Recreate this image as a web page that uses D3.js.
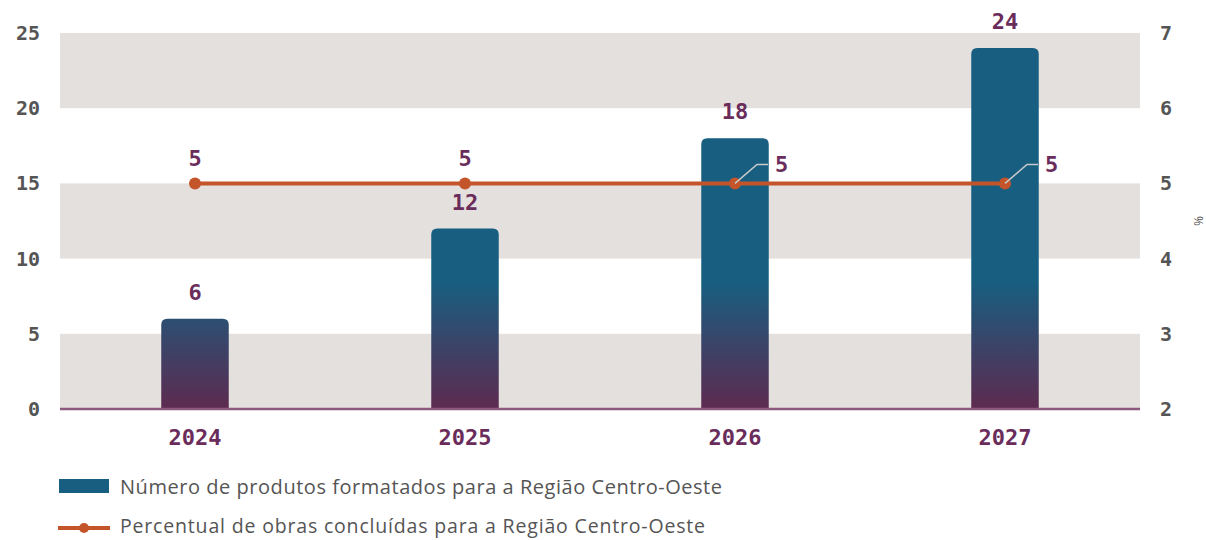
<!DOCTYPE html>
<html>
<head>
<meta charset="utf-8">
<script src="https://cdn.jsdelivr.net/npm/d3@7"></script>
<style>
  html, body { margin: 0; padding: 0; background: #fff; }
  svg { display: block; }
</style>
</head>
<body>
<svg id="chart" width="1206" height="540"></svg>
<script>
// Anos, produtos formatados (barras) e percentual de obras concluídas (linha)
const years = ["2024", "2025", "2026", "2027"];
const produtos = [6, 12, 18, 24];
const percentual = [5, 5, 5, 5];
const leftTicks = [0, 5, 10, 15, 20, 25];
const rightTicks = [2, 3, 4, 5, 6, 7];
const legendLabels = [
  "Número de produtos formatados para a Região Centro-Oeste",
  "Percentual de obras concluídas para a Região Centro-Oeste"
];

const W = 1206, H = 540;
const m = { left: 60, right: 66, top: 33, bottom: 131 };
const plotW = W - m.left - m.right;
const plotTop = m.top, plotBottom = H - m.bottom;

const svg = d3.select("#chart");
const monoFont = "'DejaVu Sans Mono', 'Liberation Mono', monospace";
const sansFont = "'Open Sans', 'Noto Sans', sans-serif";
const purple = "#6a2c5a";
const orange = "#c4552b";

const x = d3.scaleBand().domain(years).range([m.left, m.left + plotW]).paddingInner(0.75).paddingOuter(0.375);
const y = d3.scaleLinear().domain([0, 25]).range([plotBottom, plotTop]);
const y2 = d3.scaleLinear().domain([2, 7]).range([plotBottom, plotTop]);

// Faixas alternadas de fundo
const bands = [[0, 5], [10, 15], [20, 25]];
svg.append("g").selectAll("rect").data(bands).join("rect")
  .attr("x", m.left).attr("width", plotW)
  .attr("y", d => y(d[1])).attr("height", d => y(d[0]) - y(d[1]))
  .attr("fill", "#e4e0de");

// Gradiente das barras (azul no alto, roxo na base)
const defs = svg.append("defs");
const grad = defs.append("linearGradient").attr("id", "barGrad")
  .attr("gradientUnits", "userSpaceOnUse")
  .attr("x1", 0).attr("x2", 0).attr("y1", y(8.5)).attr("y2", y(0));
grad.append("stop").attr("offset", "0%").attr("stop-color", "#175e80");
grad.append("stop").attr("offset", "100%").attr("stop-color", "#5e2a50");

// Barras com cantos superiores arredondados
const r = 6;
function barPath(d, i) {
  const x0 = x(years[i]), w = x.bandwidth();
  const top = y(d), bot = y(0);
  return `M${x0},${bot} L${x0},${top + r} Q${x0},${top} ${x0 + r},${top} L${x0 + w - r},${top} Q${x0 + w},${top} ${x0 + w},${top + r} L${x0 + w},${bot} Z`;
}
svg.append("g").selectAll("path").data(produtos).join("path")
  .attr("d", (d, i) => barPath(d, i))
  .attr("fill", "url(#barGrad)");

// Linha de base
svg.append("line")
  .attr("x1", m.left).attr("x2", m.left + plotW)
  .attr("y1", y(0)).attr("y2", y(0))
  .attr("stroke", "#8c5a7e").attr("stroke-width", 2.5);

// Rótulos das barras
svg.append("g").selectAll("text").data(produtos).join("text")
  .attr("x", (d, i) => x(years[i]) + x.bandwidth() / 2)
  .attr("y", d => y(d) - 19)
  .attr("text-anchor", "middle")
  .attr("font-family", monoFont).attr("font-weight", "bold")
  .attr("font-size", 22).attr("fill", purple)
  .text(d => d);

// Eixo esquerdo
const axL = svg.append("g").attr("transform", `translate(${m.left - 20},0)`)
  .call(d3.axisLeft(y).tickValues(leftTicks).tickSize(0).tickPadding(0));
axL.select(".domain").remove();
axL.selectAll("text").attr("font-family", monoFont).attr("font-weight", "bold")
  .attr("font-size", 20).attr("fill", "#555");

// Eixo direito
const axR = svg.append("g").attr("transform", `translate(${m.left + plotW + 20},0)`)
  .call(d3.axisRight(y2).tickValues(rightTicks).tickFormat(d3.format("d")).tickSize(0).tickPadding(0));
axR.select(".domain").remove();
axR.selectAll("text").attr("font-family", monoFont).attr("font-weight", "bold")
  .attr("font-size", 20).attr("fill", "#555");
svg.append("text")
  .attr("transform", `translate(1194,${y2(4.5)}) rotate(90)`)
  .attr("text-anchor", "middle")
  .attr("font-family", sansFont).attr("font-size", 12).attr("fill", "#555")
  .text("%");

// Eixo x
const axX = svg.append("g").attr("transform", `translate(0,${y(0)})`)
  .call(d3.axisBottom(x).tickSize(0).tickPadding(0));
axX.select(".domain").remove();
axX.selectAll("text").attr("font-family", monoFont).attr("font-weight", "bold")
  .attr("font-size", 22).attr("fill", purple)
  .attr("dy", null).attr("y", 36);

// Linha de percentual
const cx = (d, i) => x(years[i]) + x.bandwidth() / 2;
const line = d3.line().x((d, i) => cx(d, i)).y(d => y2(d));
svg.append("path").datum(percentual)
  .attr("d", line).attr("fill", "none")
  .attr("stroke", orange).attr("stroke-width", 4);
svg.append("g").selectAll("circle").data(percentual).join("circle")
  .attr("cx", (d, i) => cx(d, i)).attr("cy", d => y2(d)).attr("r", 6)
  .attr("fill", orange);

// Rótulos da linha: acima nos dois primeiros, com guia nos dois últimos
percentual.forEach((d, i) => {
  const px = cx(d, i), py = y2(d);
  if (i < 2) {
    svg.append("text").attr("x", px).attr("y", py - 17)
      .attr("text-anchor", "middle")
      .attr("font-family", monoFont).attr("font-weight", "bold")
      .attr("font-size", 22).attr("fill", purple).text(d);
  } else {
    svg.append("polyline")
      .attr("points", `${px},${py} ${px + 22},${py - 19} ${px + 33},${py - 19}`)
      .attr("fill", "none").attr("stroke", "#c9c9c9").attr("stroke-width", 1.5);
    svg.append("text").attr("x", px + 40).attr("y", py - 11)
      .attr("font-family", monoFont).attr("font-weight", "bold")
      .attr("font-size", 22).attr("fill", purple).text(d);
  }
});

// Legenda
const lg = svg.append("g");
lg.append("rect").attr("x", 59).attr("y", 479).attr("width", 50).attr("height", 14).attr("fill", "#175e80");
lg.append("text").attr("x", 120).attr("y", 486).attr("dominant-baseline", "central")
  .attr("font-family", sansFont).attr("font-size", 20).attr("fill", "#555")
  .attr("textLength", 602).attr("lengthAdjust", "spacing")
  .text(legendLabels[0]);
lg.append("line").attr("x1", 58).attr("x2", 110).attr("y1", 528).attr("y2", 528)
  .attr("stroke", orange).attr("stroke-width", 4);
lg.append("circle").attr("cx", 84).attr("cy", 528).attr("r", 5).attr("fill", orange);
lg.append("text").attr("x", 120).attr("y", 525).attr("dominant-baseline", "central")
  .attr("font-family", sansFont).attr("font-size", 19.5).attr("fill", "#555")
  .attr("textLength", 585).attr("lengthAdjust", "spacing")
  .text(legendLabels[1]);
</script>
</body>
</html>
